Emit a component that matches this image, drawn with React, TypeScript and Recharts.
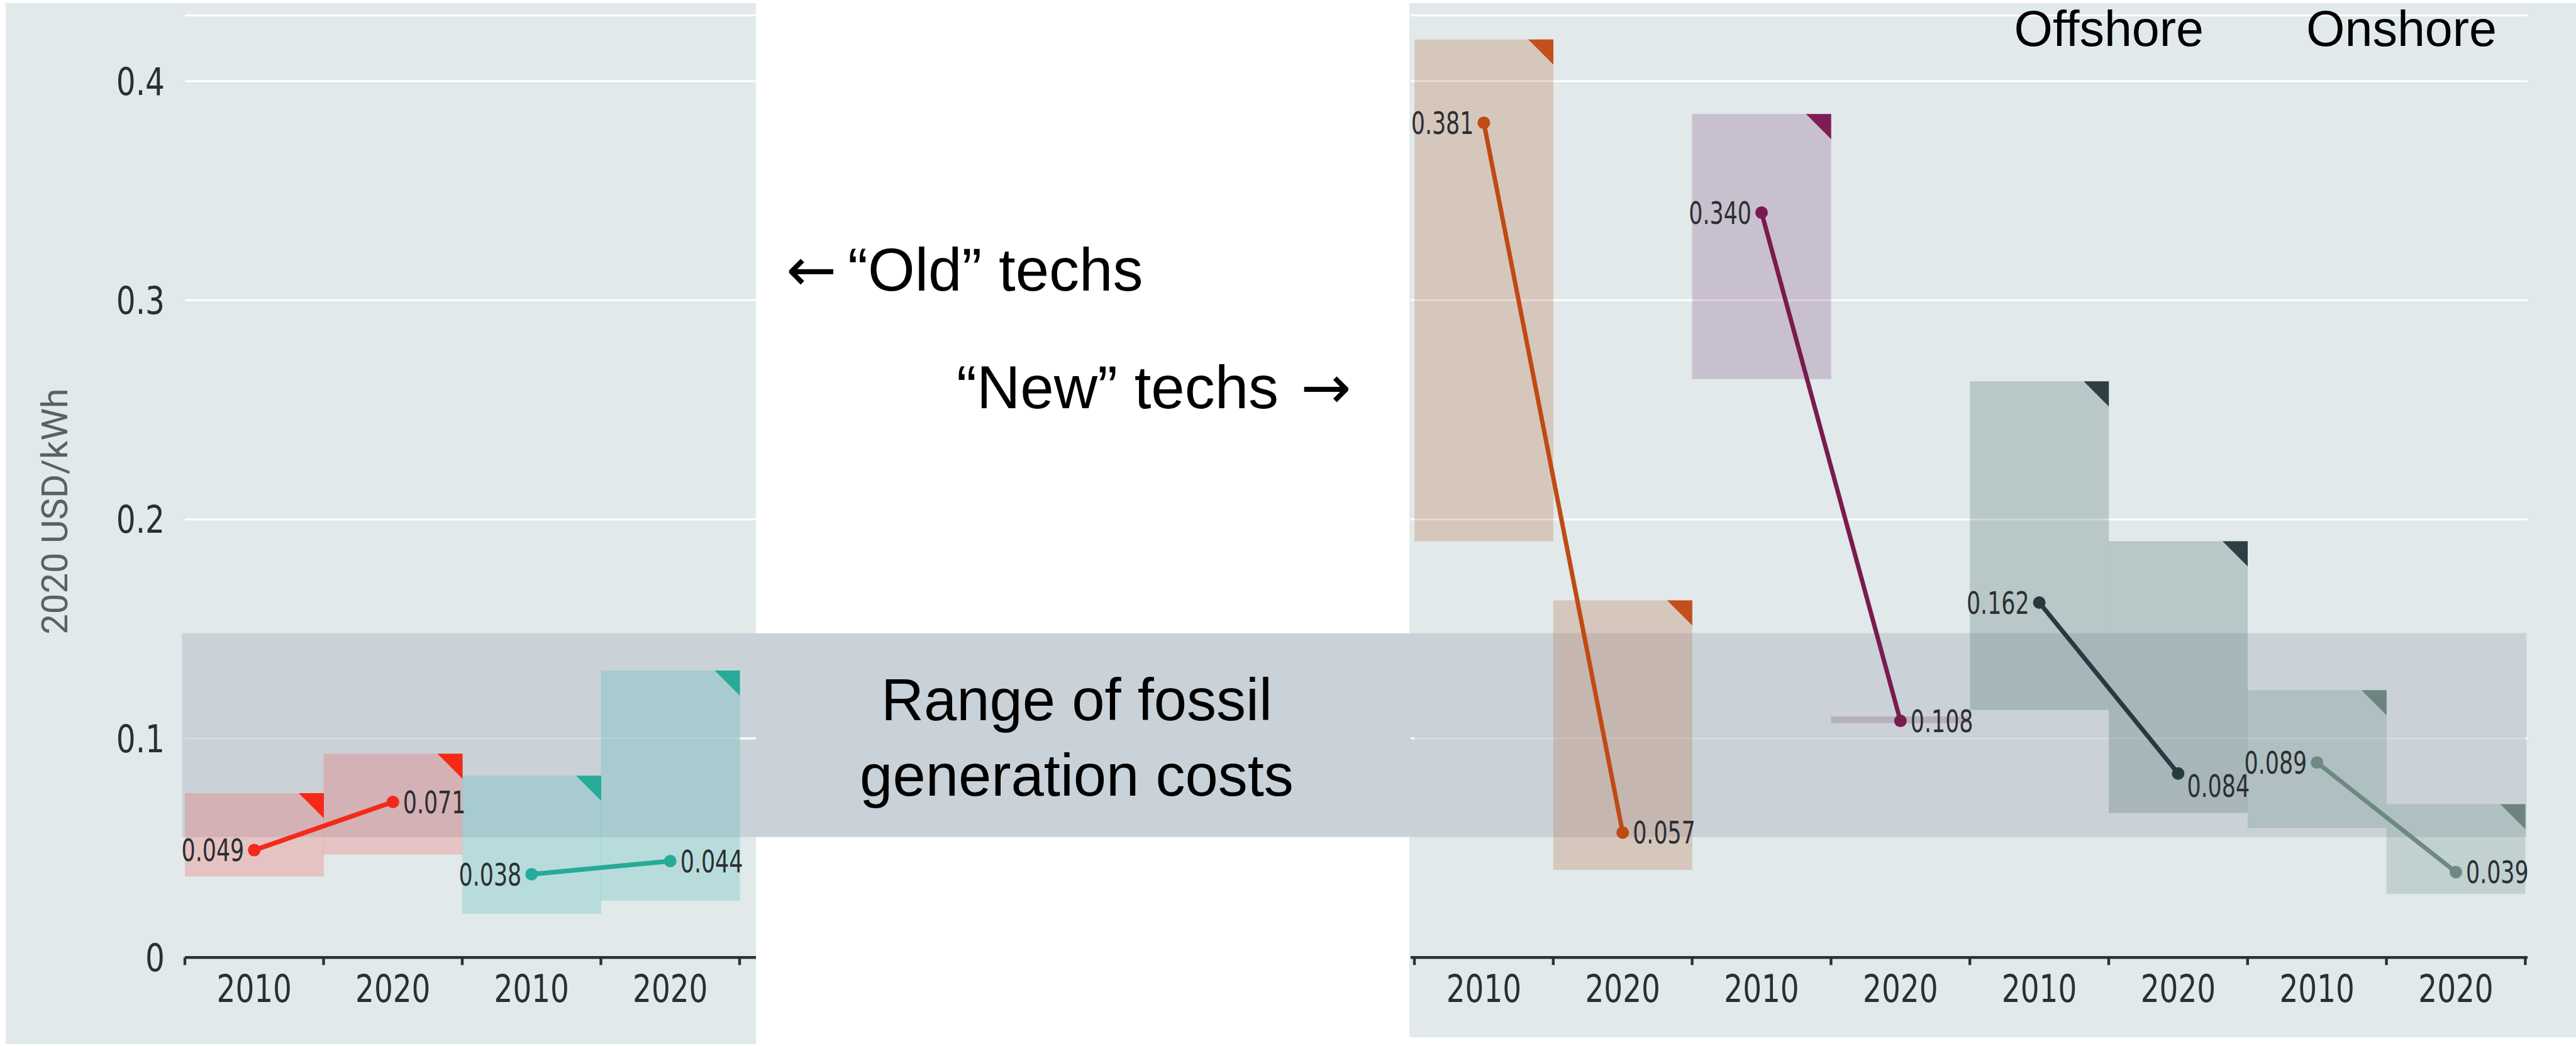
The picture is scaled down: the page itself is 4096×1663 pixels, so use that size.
import React from 'react';
import {
  ComposedChart,
  Bar,
  Line,
  XAxis,
  YAxis,
  CartesianGrid,
  ReferenceArea,
  LabelList,
} from 'recharts';

// ---------------- data ----------------
const yTicks = [0, 0.1, 0.2, 0.3, 0.4];
const yDomain: [number, number] = [0, 0.43];
const fossilLow = 0.055;
const fossilHigh = 0.148;
const fossilRows = [{ k: 'fossil', range: [fossilLow, fossilHigh] }];

// "Old" technologies (left panel)
const oldYears = ['2010', '2020', '2010', '2020'];
const oldTechs = ['geothermal', 'geothermal', 'hydropower', 'hydropower'];
const oldLow = [0.037, 0.047, 0.02, 0.026];
const oldHigh = [0.075, 0.093, 0.083, 0.131];
const oldAvg = [0.049, 0.071, 0.038, 0.044];

// "New" technologies (right panel)
const newYears = ['2010', '2020', '2010', '2020', '2010', '2020', '2010', '2020'];
const newTechs = ['solarPV', 'solarPV', 'csp', 'csp', 'offshore', 'offshore', 'onshore', 'onshore'];
const newLow = [0.19, 0.04, 0.264, 0.107, 0.113, 0.066, 0.059, 0.029];
const newHigh = [0.419, 0.163, 0.385, 0.11, 0.263, 0.19, 0.122, 0.07];
const newAvg = [0.381, 0.057, 0.34, 0.108, 0.162, 0.084, 0.089, 0.039];

const yAxisTitle = '2020 USD/kWh';
const oldTechsText = '\u201cOld\u201d techs';
const newTechsText = '\u201cNew\u201d techs';
const leftArrow = '\u2190';
const rightArrow = '\u2192';
const fossilText = ['Range of fossil', 'generation costs'];
const windTitles = ['Offshore', 'Onshore'];

// ---------------- styles ----------------
const TECH_STYLE: Record<string, { line: string; corner: string; bar: string; barOpacity: number }> = {
  geothermal: { line: '#f22a1c', corner: '#f52a16', bar: '#fc3d3a', barOpacity: 0.22 },
  hydropower: { line: '#28aa98', corner: '#28aa98', bar: '#41b6b3', barOpacity: 0.25 },
  solarPV: { line: '#c04a14', corner: '#c3501a', bar: '#b96237', barOpacity: 0.25 },
  csp: { line: '#7a1b4f', corner: '#7e1d54', bar: '#81467b', barOpacity: 0.25 },
  offshore: { line: '#263a40', corner: '#2d3e45', bar: '#41625f', barOpacity: 0.25 },
  onshore: { line: '#6d8a82', corner: '#6e847e', bar: '#658a7f', barOpacity: 0.25 },
};
// label placement: 2010 -> left of the point, 2020 -> right of the point
const LABEL_PLACEMENT: Record<string, Record<string, string>> = {
  offshore: { '2020': 'below-right' },
};

const W = 4096;
const H = 1663;
const PLOT_TOP = 24.5;
const PLOT_BOTTOM = 1522.3;
const X_AXIS_H = H - PLOT_BOTTOM;
const PANEL_BG = '#e1e9ea';
const BAND_COLOR = '#c9d2d8';
const INK = '#2b2f33';
const AXIS_INK = '#2b3035';
const NARROW = "'DejaVu Sans Condensed', 'Liberation Sans Narrow', 'DejaVu Sans', sans-serif";
const SANS = "'Liberation Sans', Arial, Helvetica, sans-serif";
const TICK_FS = 60;
const LABEL_FS = 49;
const X_TICK_MARGIN = 28;
const CORNER = 40;

type Row = { year: string; tech: string; range: [number, number]; avg: number; [k: string]: any };

function buildRows(years: string[], techs: string[], low: number[], high: number[], avg: number[]): Row[] {
  return years.map((year, i) => ({
    year,
    tech: techs[i],
    range: [low[i], high[i]] as [number, number],
    avg: avg[i],
    [techs[i]]: avg[i],
  }));
}

const oldRows = buildRows(oldYears, oldTechs, oldLow, oldHigh, oldAvg);
const newRows = buildRows(newYears, newTechs, newLow, newHigh, newAvg);

const uniq = (a: string[]) => a.filter((v, i) => a.indexOf(v) === i);

const RangeShape = (props: any) => {
  const { x, y, width, height, payload } = props;
  if (x == null || y == null || !width) return null;
  const st = TECH_STYLE[payload.tech];
  const top = Math.min(y, y + height);
  const h = Math.abs(height);
  const right = x + width;
  return (
    <g>
      <rect x={x} y={top} width={width} height={h} fill={st.bar} fillOpacity={st.barOpacity} />
      {h > CORNER ? (
        <polygon points={`${right - CORNER},${top} ${right},${top} ${right},${top + CORNER}`} fill={st.corner} />
      ) : null}
    </g>
  );
};

// condensed text: horizontal squeeze around the anchor point
const SqText = (p: { x: number; y: number; sx: number; anchor: string; dy: string; fs: number; fill: string; children: any }) => (
  <text
    transform={`translate(${p.x},${p.y}) scale(${p.sx},1)`}
    x={0}
    y={0}
    dy={p.dy}
    textAnchor={p.anchor as any}
    fontSize={p.fs}
    fontFamily={NARROW}
    fill={p.fill}
  >
    {p.children}
  </text>
);

const XTick = (props: any) => {
  const { x, y, payload, index, visibleTicksCount, width } = props;
  let off = payload && payload.offset ? payload.offset : 0;
  if (!off && width && visibleTicksCount) off = width / visibleTicksCount / 2;
  const axisY = y - X_TICK_MARGIN;
  const xs = [x - off];
  if (index === visibleTicksCount - 1) xs.push(x + off);
  return (
    <g>
      {xs.map((lx, i) => (
        <line key={i} x1={lx} x2={lx} y1={axisY} y2={axisY + 12} stroke={AXIS_INK} strokeWidth={4.4} />
      ))}
      <SqText x={x} y={y} sx={0.87} anchor="middle" dy="0.71em" fs={TICK_FS} fill={INK}>
        {payload.value}
      </SqText>
    </g>
  );
};

const YTick = (props: any) => {
  const { x, y, payload } = props;
  const v = payload.value as number;
  return (
    <SqText x={x} y={y} sx={0.9} anchor="end" dy="0.36em" fs={TICK_FS} fill={INK}>
      {v === 0 ? '0' : v.toFixed(1)}
    </SqText>
  );
};

const makeLabel = (rows: Row[]) => (props: any) => {
  const { value, index } = props;
  if (value == null) return null;
  const px = props.x != null ? props.x : props.viewBox && props.viewBox.x;
  const py = props.y != null ? props.y : props.viewBox && props.viewBox.y;
  if (px == null || py == null) return null;
  const row: Row = (props.payload && props.payload.year ? props.payload : rows[index]) as Row;
  const custom = LABEL_PLACEMENT[row.tech] && LABEL_PLACEMENT[row.tech][row.year];
  const place = custom || (row.year === '2010' ? 'left' : 'right');
  let tx = px;
  let ty = py;
  let anchor = 'start';
  if (place === 'left') {
    tx = px - 16;
    anchor = 'end';
  } else if (place === 'right') {
    tx = px + 16;
  } else {
    tx = px + 14;
    ty = py + 20;
  }
  return (
    <SqText x={tx} y={ty} sx={0.79} anchor={anchor} dy="0.36em" fs={LABEL_FS} fill={INK}>
      {Number(value).toFixed(3)}
    </SqText>
  );
};

function renderSeries(rows: Row[], techs: string[], lineWidth: number) {
  const out: any[] = [];
  out.push(<Bar key="bars" dataKey="range" shape={RangeShape} isAnimationActive={false} />);
  uniq(techs).forEach((t) => {
    const st = TECH_STYLE[t];
    out.push(
      <Line
        key={t}
        type="linear"
        dataKey={t}
        stroke={st.line}
        strokeWidth={lineWidth}
        dot={{ r: 10, fill: st.line, stroke: st.line, strokeWidth: 0 }}
        activeDot={false}
        isAnimationActive={false}
        connectNulls={false}
      >
        <LabelList dataKey={t} content={makeLabel(rows)} />
      </Line>
    );
  });
  return out;
}

const abs = (left: number, top: number, width: number, height: number): React.CSSProperties => ({
  position: 'absolute',
  left,
  top,
  width,
  height,
});

export default function App() {
  return (
    <div style={{ position: 'absolute', left: 0, top: 0, width: W, height: H, background: '#ffffff', overflow: 'hidden' }}>
      {/* panel backgrounds */}
      <div style={{ ...abs(9.4, 5.2, 1192.4, 1655), background: PANEL_BG }} />
      <div style={{ ...abs(2241, 5.2, 1855, 1644), background: PANEL_BG }} />

      {/* fossil generation cost band across both panels */}
      <div style={abs(0, 0, W, H)}>
        <ComposedChart
          width={W}
          height={H}
          data={fossilRows}
          barCategoryGap={0}
          margin={{ top: PLOT_TOP, right: 79, bottom: X_AXIS_H, left: 289.3 }}
        >
          <XAxis dataKey="k" hide />
          <YAxis hide domain={yDomain} type="number" />
          <Bar dataKey="range" fill={BAND_COLOR} isAnimationActive={false} />
        </ComposedChart>
      </div>

      {/* left panel: old techs */}
      <div style={abs(0, 0, 1202, H)}>
        <ComposedChart width={1202} height={H} data={oldRows} barCategoryGap={0} barGap={0} margin={{ top: PLOT_TOP, right: 0, bottom: 0, left: 0 }}>
          <CartesianGrid vertical={false} stroke="#ffffff" strokeWidth={3} />
          <ReferenceArea y1={fossilLow} y2={fossilHigh} fill={BAND_COLOR} fillOpacity={0.75} stroke="none" />
          <XAxis
            dataKey="year"
            height={X_AXIS_H}
            padding={{ left: 0, right: 26 }}
            interval={0}
            tickLine={false}
            tickSize={0}
            tickMargin={X_TICK_MARGIN}
            axisLine={{ stroke: AXIS_INK, strokeWidth: 4.4 }}
            tick={XTick}
          />
          <YAxis
            type="number"
            domain={yDomain}
            ticks={yTicks}
            width={294}
            axisLine={false}
            tickLine={false}
            tickSize={0}
            tickMargin={32}
            tick={YTick}
          />
          {renderSeries(oldRows, oldTechs, 7.5)}
        </ComposedChart>
      </div>

      {/* right panel: new techs */}
      <div style={abs(2241, 0, 1855, H)}>
        <ComposedChart width={1855} height={H} data={newRows} barCategoryGap={0} barGap={0} margin={{ top: PLOT_TOP, right: 77, bottom: 0, left: 2 }}>
          <CartesianGrid vertical={false} stroke="#ffffff" strokeWidth={3} />
          <ReferenceArea y1={fossilLow} y2={fossilHigh} fill={BAND_COLOR} fillOpacity={0.75} stroke="none" />
          <XAxis
            dataKey="year"
            height={X_AXIS_H}
            padding={{ left: 6, right: 3.6 }}
            interval={0}
            tickLine={false}
            tickSize={0}
            tickMargin={X_TICK_MARGIN}
            axisLine={{ stroke: AXIS_INK, strokeWidth: 4.4 }}
            tick={XTick}
          />
          <YAxis type="number" domain={yDomain} ticks={yTicks} hide />
          {renderSeries(newRows, newTechs, 7)}
        </ComposedChart>
      </div>

      {/* annotations */}
      <svg width={W} height={H} style={{ position: 'absolute', left: 0, top: 0, pointerEvents: 'none' }}>
        <text
          x={106.6}
          y={813}
          transform="rotate(-90, 106.6, 813)"
          textAnchor="middle"
          fontSize={58}
          fontFamily="Roboto, sans-serif"
          fill="#5a6066"
        >
          {yAxisTitle}
        </text>
        <text x={1250} y={462} fontSize={96} fontFamily="'DejaVu Sans', sans-serif" fill="#000">
          {leftArrow}
        </text>
        <text x={1348} y={462} fontSize={96} fontFamily={SANS} fill="#000">
          {oldTechsText}
        </text>
        <text x={1521} y={648.5} fontSize={96} fontFamily={SANS} fill="#000">
          {newTechsText}
        </text>
        <text x={2068} y={648.5} fontSize={96} fontFamily="'DejaVu Sans', sans-serif" fill="#000">
          {rightArrow}
        </text>
        <text x={1712} y={1145} textAnchor="middle" fontSize={94} fontFamily={SANS} fill="#000">
          {fossilText[0]}
        </text>
        <text x={1712} y={1265} textAnchor="middle" fontSize={94} fontFamily={SANS} fill="#000">
          {fossilText[1]}
        </text>
        <text x={3202.5} y={72.5} fontSize={79} fontFamily={SANS} fill="#000">
          {windTitles[0]}
        </text>
        <text x={3667} y={72.5} fontSize={79} fontFamily={SANS} fill="#000">
          {windTitles[1]}
        </text>
      </svg>
    </div>
  );
}
